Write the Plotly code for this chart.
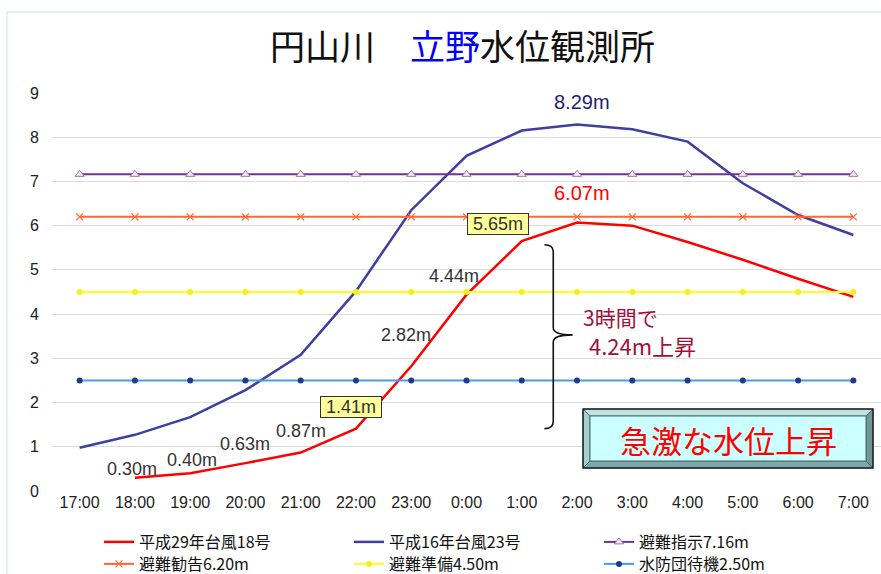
import plotly.graph_objects as go

# --- data -------------------------------------------------------------
times = ["17:00", "18:00", "19:00", "20:00", "21:00", "22:00", "23:00", "0:00",
         "1:00", "2:00", "3:00", "4:00", "5:00", "6:00", "7:00"]
h29_typhoon18 = [None, 0.30, 0.40, 0.63, 0.87, 1.41, 2.82, 4.44,
                 5.65, 6.07, 6.00, 5.63, 5.23, 4.80, 4.39]
h16_typhoon23 = [0.98, 1.27, 1.67, 2.28, 3.08, 4.52, 6.35, 7.58,
                 8.15, 8.29, 8.18, 7.90, 6.96, 6.24, 5.79]
level_shiji = 7.16     # 避難指示
level_kankoku = 6.20   # 避難勧告
level_junbi = 4.50     # 避難準備
level_taiki = 2.50     # 水防団待機

# value labels on the 平成29年 curve: (time index, value, dx, dy, boxed)
h29_labels = [(1, 0.30, -3, 9, False), (2, 0.40, 2, 13, False),
              (3, 0.63, 0, 19, False), (4, 0.87, 0, 22, False),
              (5, 1.41, -5, 22, True), (6, 2.82, -5, 31, False),
              (7, 4.44, -13, 19, False), (8, 5.65, -24, 17, True)]

xs = list(range(len(times)))
FONT = "Liberation Sans, Arial, Noto Sans CJK JP, sans-serif"
JFONT = "Noto Sans CJK JP, Liberation Sans, sans-serif"

# plot-area geometry in pixels (for decorations outside the axes)
PL, PR, PT, PB = 52, 881, 93, 491
def pxx(px):
    return (px - PL) / (PR - PL)
def pxy(py):
    return (PB - py) / (PB - PT)

fig = go.Figure()

def flat(v):
    return [v for _ in times]

# first legend row
fig.add_trace(go.Scatter(x=xs, y=h29_typhoon18, name="平成29年台風18号", mode="lines",
                         line=dict(color="#FF0000", width=2.5), legend="legend"))
fig.add_trace(go.Scatter(x=xs, y=h16_typhoon23, name="平成16年台風23号", mode="lines",
                         line=dict(color="#3F3F9F", width=2.5), legend="legend"))
fig.add_trace(go.Scatter(x=xs, y=flat(level_shiji), name="避難指示7.16m", mode="lines+markers",
                         line=dict(color="#7030A0", width=2),
                         marker=dict(symbol="triangle-up", size=8, color="#F4E6F4",
                                     line=dict(color="#B070B0", width=1)),
                         legend="legend"))
# second legend row
fig.add_trace(go.Scatter(x=xs, y=flat(level_kankoku), name="避難勧告6.20m", mode="lines+markers",
                         line=dict(color="#FF6633", width=2),
                         marker=dict(symbol="x-thin-open", size=7, line=dict(color="#FF6633", width=1.2)),
                         legend="legend2"))
fig.add_trace(go.Scatter(x=xs, y=flat(level_junbi), name="避難準備4.50m", mode="lines+markers",
                         line=dict(color="#FFFF1A", width=2),
                         marker=dict(symbol="circle", size=6, color="#F2F21A"),
                         legend="legend2"))
fig.add_trace(go.Scatter(x=xs, y=flat(level_taiki), name="水防団待機2.50m", mode="lines+markers",
                         line=dict(color="#4A9BEA", width=2),
                         marker=dict(symbol="circle", size=6, color="#1F3A8C"),
                         legend="legend2"))

ann = []
for i, v, dx, dy, boxed in h29_labels:
    txt = f"{v:.2f}m"
    a = dict(x=i, y=v, text=txt, showarrow=False, xshift=dx, yshift=dy,
             font=dict(family=FONT, size=18, color="#333333"))
    if boxed:
        a.update(text="&nbsp;" + txt + "&nbsp;", bgcolor="#FFFF99", bordercolor="#333333",
                 borderwidth=1, borderpad=0)
    ann.append(a)

peak_i = 9
ann.append(dict(x=peak_i, y=h29_typhoon18[peak_i], text=f"{h29_typhoon18[peak_i]:.2f}m",
                showarrow=False, xshift=5, yshift=30,
                font=dict(family=FONT, size=20, color="#FF0000")))
ann.append(dict(x=peak_i, y=h16_typhoon23[peak_i], text=f"{h16_typhoon23[peak_i]:.2f}m",
                showarrow=False, xshift=5, yshift=22,
                font=dict(family=FONT, size=20, color="#1F1F70")))

# title
ann.append(dict(xref="paper", yref="paper", x=pxx(462), y=pxy(45), xanchor="center", yanchor="middle",
                text="円山川　<span style='color:#0000FF'>立野</span>水位観測所", showarrow=False,
                font=dict(family=JFONT, size=35, color="#111111")))

# brace spanning the rise between 22:00 and 1:00
lo, hi = h29_typhoon18[5], h29_typhoon18[8]
rise = hi - lo
bx, bl, bt = 8.57, 8.41, 8.92
mid = (lo + hi) / 2
r = 0.16
brace = (f"M {bl},{hi - 0.08} Q {bx},{hi - 0.08} {bx},{hi - 0.08 - r} L {bx},{mid + r} "
         f"Q {bx},{mid} {bt},{mid} Q {bx},{mid} {bx},{mid - r} L {bx},{lo + r} Q {bx},{lo} {bl},{lo}")

shapes = [
    dict(type="path", xref="x", yref="y", path=brace, line=dict(color="#111111", width=1.6)),
    # outer frame
    dict(type="line", xref="paper", yref="paper", x0=pxx(7), x1=pxx(885), y0=pxy(12), y1=pxy(12),
         line=dict(color="#D5ECEC", width=1.5)),
    dict(type="line", xref="paper", yref="paper", x0=pxx(7), x1=pxx(7), y0=pxy(12), y1=pxy(580),
         line=dict(color="#D5ECEC", width=1.5)),
]

ann.append(dict(xref="paper", yref="paper", x=pxx(581), y=pxy(317), xanchor="left", yanchor="middle",
                text="3時間で", showarrow=False, font=dict(family=JFONT, size=21, color="#A0103C")))
ann.append(dict(xref="paper", yref="paper", x=pxx(587), y=pxy(345), xanchor="left", yanchor="middle",
                text=f"{rise:.2f}m上昇", showarrow=False, font=dict(family=JFONT, size=22, color="#A0103C")))

# bevelled callout box
ox0, oy0, ox1, oy1 = 583, 409, 873, 468
ins = 7
ix0, iy0, ix1, iy1 = ox0 + ins, oy0 + ins, ox1 - ins, oy1 - ins
def poly(pts, fill):
    p = "M " + " L ".join(f"{pxx(a)},{pxy(b)}" for a, b in pts) + " Z"
    return dict(type="path", xref="paper", yref="paper", path=p, fillcolor=fill,
                line=dict(color="#3A5A5A", width=0.8))
shapes += [
    poly([(ox0, oy0), (ox1, oy0), (ix1, iy0), (ix0, iy0)], "#BFE2E2"),
    poly([(ox0, oy0), (ix0, iy0), (ix0, iy1), (ox0, oy1)], "#A5CFCF"),
    poly([(ox1, oy0), (ox1, oy1), (ix1, iy1), (ix1, iy0)], "#6E9797"),
    poly([(ox0, oy1), (ix0, iy1), (ix1, iy1), (ox1, oy1)], "#7FA8A8"),
    dict(type="rect", xref="paper", yref="paper", x0=pxx(ix0), x1=pxx(ix1), y0=pxy(iy0), y1=pxy(iy1),
         fillcolor="#CCFFFF", line=dict(color="#4A6A6A", width=1)),
    dict(type="rect", xref="paper", yref="paper", x0=pxx(ox0), x1=pxx(ox1), y0=pxy(oy0), y1=pxy(oy1),
         line=dict(color="#222222", width=1.5)),
]
ann.append(dict(xref="paper", yref="paper", x=pxx((ox0 + ox1) / 2), y=pxy(439), xanchor="center",
                yanchor="middle", text="急激な水位上昇", showarrow=False,
                font=dict(family=JFONT, size=31, color="#FF0000")))

leg_common = dict(orientation="h", xanchor="left", yanchor="middle", bgcolor="rgba(0,0,0,0)",
                  font=dict(family=JFONT, size=16, color="#111111"), itemwidth=30,
                  entrywidth=205, entrywidthmode="pixels",
                  borderwidth=0, itemclick=False, itemdoubleclick=False)

fig.update_layout(
    width=881, height=574,
    margin=dict(l=PL, r=881 - PR, t=PT, b=574 - PB, autoexpand=False),
    paper_bgcolor="white", plot_bgcolor="white",
    showlegend=True,
    legend=dict(x=pxx(99), y=pxy(542), **leg_common),
    legend2=dict(x=pxx(99), y=pxy(564), **leg_common),
    xaxis=dict(range=[-0.5, len(times) - 0.5], tickmode="array", tickvals=xs, ticktext=times,
               showgrid=False, zeroline=False, showline=False, ticks="",
               tickfont=dict(family=FONT, size=16, color="#222222")),
    yaxis=dict(range=[0, 9], dtick=1, showgrid=True, gridcolor="#DCDCDC", gridwidth=1,
               zeroline=False, showline=False, ticks="", ticklabelstandoff=12,
               tickfont=dict(family=FONT, size=16, color="#222222")),
    shapes=shapes,
    annotations=ann,
)

fig.write_html("out.html")
